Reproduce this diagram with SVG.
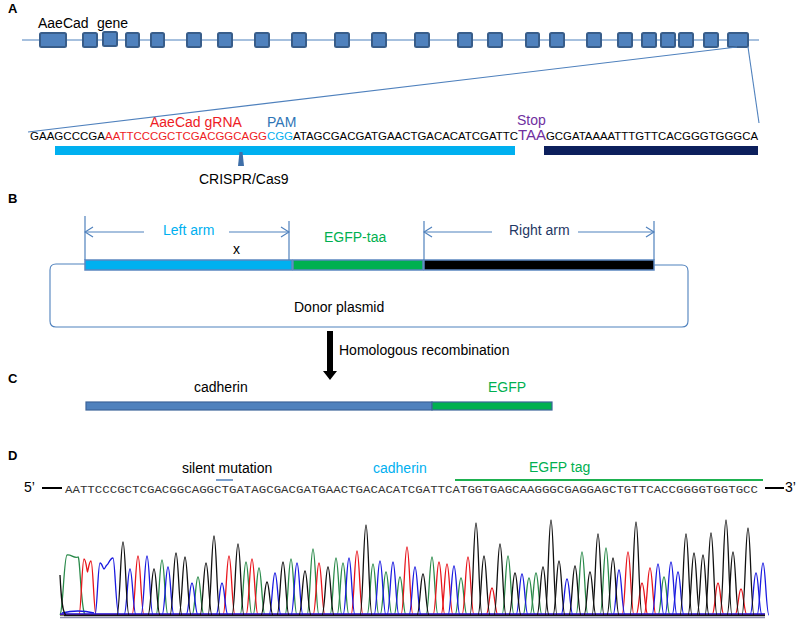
<svg xmlns="http://www.w3.org/2000/svg" xmlns:xlink="http://www.w3.org/1999/xlink" width="800" height="620" viewBox="0 0 800 620">
<style>
text{font-family:"Liberation Sans",Arial,sans-serif;font-size:14px;fill:#000}
.pl{font-weight:bold;font-size:13px}
.sq{font-size:10.5px}
.mono{font-family:"Liberation Mono","Courier New",monospace;font-size:11px;fill:#333}
.exon{fill:#4f81bd;stroke:#385d8a;stroke-width:2}
.thin{stroke:#4f81bd;stroke-width:1.1;fill:none}
.dim{stroke:#4f81bd;stroke-width:1.2;fill:none}
.seg{stroke:#5b86c0;stroke-width:1.5}
.red{fill:#ee1c25}.cyan{fill:#00b0f0}.pam{fill:#2e75b6}.pur{fill:#7030a0}.grn{fill:#00b050}.navy{fill:#1f3864}
.tr{fill:none;stroke-width:1.3}
</style>
<defs>
<marker id="chev" markerWidth="10" markerHeight="12" refX="9" refY="6" orient="auto" markerUnits="userSpaceOnUse">
<path d="M1,1 L9,6 L1,11" fill="none" stroke="#4f81bd" stroke-width="1.2"/>
</marker>
<path id="pk" d="M-6,0 C-3.2,0 -2.4,-1 0,-1 C2.4,-1 3.2,0 6,0" vector-effect="non-scaling-stroke"/>
</defs>
<rect width="800" height="620" fill="#fff"/>

<!-- panel labels -->
<text class="pl" x="8" y="13">A</text>
<text class="pl" x="8" y="203">B</text>
<text class="pl" x="8" y="383">C</text>
<text class="pl" x="8" y="460">D</text>

<!-- Panel A: gene -->
<g id="gene">
<line x1="22" y1="40" x2="759" y2="40" stroke="#4f81bd" stroke-width="1.2"/>
<g>
<rect class="exon" x="40" y="33" width="26" height="14" rx="1.5"/>
<rect class="exon" x="83" y="33" width="14" height="14" rx="1.5"/>
<rect class="exon" x="103" y="32" width="14" height="14" rx="1.5"/>
<rect class="exon" x="126" y="33" width="13" height="14" rx="1.5"/>
<rect class="exon" x="151" y="33" width="13" height="14" rx="1.5"/>
<rect class="exon" x="187" y="33" width="14" height="14" rx="1.5"/>
<rect class="exon" x="218" y="33" width="14" height="14" rx="1.5"/>
<rect class="exon" x="255" y="33" width="14" height="14" rx="1.5"/>
<rect class="exon" x="292" y="33" width="14" height="14" rx="1.5"/>
<rect class="exon" x="335" y="33" width="14" height="14" rx="1.5"/>
<rect class="exon" x="372" y="33" width="14" height="14" rx="1.5"/>
<rect class="exon" x="415" y="33" width="14" height="14" rx="1.5"/>
<rect class="exon" x="458" y="33" width="14" height="14" rx="1.5"/>
<rect class="exon" x="488" y="33" width="14" height="14" rx="1.5"/>
<rect class="exon" x="526" y="33" width="13" height="14" rx="1.5"/>
<rect class="exon" x="550" y="33" width="14" height="14" rx="1.5"/>
<rect class="exon" x="587" y="33" width="14" height="14" rx="1.5"/>
<rect class="exon" x="618" y="33" width="14" height="14" rx="1.5"/>
<rect class="exon" x="642" y="33" width="14" height="14" rx="1.5"/>
<rect class="exon" x="661" y="33" width="14" height="14" rx="1.5"/>
<rect class="exon" x="679" y="33" width="14" height="14" rx="1.5"/>
<rect class="exon" x="704" y="33" width="14" height="14" rx="1.5"/>
<rect class="exon" x="728" y="33" width="20" height="14" rx="1.5"/>
</g>
<text x="38" y="28">AaeCad<tspan x="97">gene</tspan></text>
</g>

<!-- Panel A: sequence -->
<g id="sequenceA">
<text class="sq" x="30" y="140" textLength="75" lengthAdjust="spacingAndGlyphs">GAAGCCCGA</text>
<text class="sq red" x="105" y="140" textLength="162" lengthAdjust="spacingAndGlyphs">AATTCCCGCTCGACGGCAGG</text>
<text class="sq cyan" x="267" y="140" textLength="26" lengthAdjust="spacingAndGlyphs">CGG</text>
<text class="sq" x="293" y="140" textLength="225" lengthAdjust="spacingAndGlyphs">ATAGCGACGATGAACTGACACATCGATTC</text>
<text class="pur" x="518" y="140" textLength="28" lengthAdjust="spacingAndGlyphs">TAA</text>
<text class="sq" x="546" y="140" textLength="212" lengthAdjust="spacingAndGlyphs">GCGATAAAATTTGTTCACGGGTGGGCA</text>
<text class="red" x="150" y="127">AaeCad gRNA</text>
<text class="pam" x="267" y="127">PAM</text>
<text class="pur" x="517" y="125">Stop</text>
<rect x="55" y="146" width="460" height="9" fill="#00b0f0"/>
<rect x="544" y="146" width="214" height="9" fill="#0c1f5c"/>
</g>

<g id="crispr">
<polygon points="239.5,152 242.5,152 244,166 238,166" fill="#3f6fa8"/>
<text x="199" y="184">CRISPR/Cas9</text>
</g>

<!-- Panel B -->
<g id="donor">
<path class="thin" stroke-width="1.5" d="M85,264 L56,264 Q50,264 50,270 L50,321 Q50,327 56,327 L682,327 Q688,327 688,321 L688,271 Q688,265 682,265 L654,265"/>
<rect class="seg" x="85" y="260" width="207" height="10" fill="#00b0f0"/>
<rect class="seg" x="293" y="260" width="130" height="10" fill="#00b050"/>
<rect class="seg" x="424" y="260" width="230" height="10" fill="#000"/>
<text x="294" y="312">Donor plasmid</text>
<text x="233" y="254">x</text>
</g>
<g id="leftarm">
<line class="dim" x1="85" y1="216" x2="85" y2="260"/>
<line class="dim" x1="289" y1="221" x2="289" y2="260"/>
<text class="cyan" x="163" y="235">Left arm</text>
</g>
<g id="egfp-taa">
<text class="grn" x="324" y="242">EGFP-taa</text>
</g>
<g id="rightarm">
<line class="dim" x1="424" y1="221" x2="424" y2="260"/>
<line class="dim" x1="654" y1="221" x2="654" y2="260"/>
<text class="navy" x="509" y="235">Right arm</text>
</g>

<!-- Panel C -->
<g id="result">
<rect x="86" y="402" width="346" height="8" fill="#4f81bd" stroke="#3c6499" stroke-width="1.2"/>
<rect x="432" y="402" width="120" height="8" fill="#00b050" stroke="#3c6499" stroke-width="1.2"/>
<text x="194" y="392">cadherin</text>
<text class="grn" x="488" y="392">EGFP</text>
</g>

<!-- connectors -->
<g id="connectors">
<line class="thin" x1="28" y1="132" x2="737" y2="47"/>
<line class="thin" x1="748" y1="47" x2="759" y2="123"/>
<line class="dim" x1="144" y1="232" x2="85" y2="232" marker-end="url(#chev)"/>
<line class="dim" x1="229" y1="232" x2="289" y2="232" marker-end="url(#chev)"/>
<line class="dim" x1="492" y1="232" x2="424" y2="232" marker-end="url(#chev)"/>
<line class="dim" x1="578" y1="232" x2="654" y2="232" marker-end="url(#chev)"/>
<polygon points="327,331 333,331 333,371 337,371 330,380 323,371 327,371" fill="#000"/>
<text x="339" y="355">Homologous recombination</text>
</g>

<!-- Panel D -->
<g id="sequenceD">
<text x="24" y="492">5’</text>
<line x1="42" y1="488" x2="62" y2="488" stroke="#000" stroke-width="2"/>
<text class="mono" x="65" y="493" textLength="693" lengthAdjust="spacingAndGlyphs">AATTCCCGCTCGACGGCAGGCTGATAGCGACGATGAACTGACACATCGATTCATGGTGAGCAAGGGCGAGGAGCTGTTCACCGGGGTGGTGCC</text>
<line x1="765" y1="488" x2="784" y2="488" stroke="#000" stroke-width="2"/>
<text x="785" y="492">3’</text>
<text x="182" y="473">silent mutation</text>
<line x1="216" y1="480" x2="233" y2="480" stroke="#4f81bd" stroke-width="1.5"/>
<text class="cyan" x="373" y="473">cadherin</text>
<text class="grn" x="529" y="472">EGFP tag</text>
<line x1="455" y1="480" x2="763" y2="480" stroke="#1db150" stroke-width="2"/>
</g>

<g id="chromatogram">
<g class="tr" stroke="#2a8a4a">
<line x1="60" y1="615" x2="765" y2="615"/>
<path d="M60,615 C63,612 64,556 67,555 C71,554 74,559 78,557 C80,556 81,610 85,615"/>
<use href="#pk" transform="translate(162,615) scale(1,55)"/>
<use href="#pk" transform="translate(198,615) scale(1,38)"/>
<use href="#pk" transform="translate(246,615) scale(1,53)"/>
<use href="#pk" transform="translate(259,615) scale(1,47)"/>
<use href="#pk" transform="translate(291,615) scale(1,56)"/>
<use href="#pk" transform="translate(313,615) scale(1,66)"/>
<use href="#pk" transform="translate(336,615) scale(1,57)"/>
<use href="#pk" transform="translate(343,615) scale(1,52)"/>
<use href="#pk" transform="translate(373,615) scale(1,51)"/>
<use href="#pk" transform="translate(386,615) scale(1,43)"/>
<use href="#pk" transform="translate(400,615) scale(1,38)"/>
<use href="#pk" transform="translate(432,615) scale(1,58)"/>
<use href="#pk" transform="translate(461,615) scale(1,37)"/>
<use href="#pk" transform="translate(508,615) scale(1,59)"/>
<use href="#pk" transform="translate(529,615) scale(1,37)"/>
<use href="#pk" transform="translate(536,615) scale(1,42)"/>
<use href="#pk" transform="translate(582,615) scale(1,63)"/>
<use href="#pk" transform="translate(606,615) scale(1,67)"/>
<use href="#pk" transform="translate(664,615) scale(1,38)"/>
</g>
<g class="tr" stroke="#e8141b">
<line x1="60" y1="614.5" x2="765" y2="614.5"/>
<path d="M79,615 C81,615 82,559 84,559 C86,559 87,572 87.5,572 C88,572 89,561 91,561 C93,561 94,615 96,615"/>
<use href="#pk" transform="translate(138,615) scale(1,59)"/>
<use href="#pk" transform="translate(229,615) scale(1,59)"/>
<use href="#pk" transform="translate(252,615) scale(1,56)"/>
<use href="#pk" transform="translate(319,615) scale(1,52)"/>
<use href="#pk" transform="translate(357,615) scale(1,64)"/>
<use href="#pk" transform="translate(407,615) scale(1,68)"/>
<use href="#pk" transform="translate(439,615) scale(1,53)"/>
<use href="#pk" transform="translate(447,615) scale(1,51)"/>
<use href="#pk" transform="translate(468,615) scale(1,58)"/>
<use href="#pk" transform="translate(492,615) scale(1,27)"/>
<use href="#pk" transform="translate(628,615) scale(1,63)"/>
<use href="#pk" transform="translate(642,615) scale(1,32)"/>
<use href="#pk" transform="translate(650,615) scale(1,47)"/>
<use href="#pk" transform="translate(718,615) scale(1,32)"/>
<use href="#pk" transform="translate(741,615) scale(1,26)"/>
</g>
<g class="tr" stroke="#1a1ae0">
<line x1="60" y1="614" x2="765" y2="614"/>
<path d="M62,613 C70,611 82,610 94,613"/>
<path d="M95,615 C97,615 98,563 100,563 C102,563 103,569 104,569 C105,569 106,565 107,565 C108,565 110,558 113,558 C115,558 116,615 119,615"/>
<use href="#pk" transform="translate(130,615) scale(1,46)"/>
<use href="#pk" transform="translate(147,615) scale(1,59)"/>
<use href="#pk" transform="translate(168,615) scale(1,48)"/>
<use href="#pk" transform="translate(192,615) scale(1,32)"/>
<use href="#pk" transform="translate(222,615) scale(1,32)"/>
<use href="#pk" transform="translate(275,615) scale(1,42)"/>
<use href="#pk" transform="translate(297,615) scale(1,52)"/>
<use href="#pk" transform="translate(349,615) scale(1,57)"/>
<use href="#pk" transform="translate(380,615) scale(1,54)"/>
<use href="#pk" transform="translate(393,615) scale(1,53)"/>
<use href="#pk" transform="translate(415,615) scale(1,48)"/>
<use href="#pk" transform="translate(454,615) scale(1,49)"/>
<use href="#pk" transform="translate(522,615) scale(1,41)"/>
<use href="#pk" transform="translate(567,615) scale(1,36)"/>
<use href="#pk" transform="translate(619,615) scale(1,45)"/>
<use href="#pk" transform="translate(658,615) scale(1,51)"/>
<use href="#pk" transform="translate(671,615) scale(1,53)"/>
<use href="#pk" transform="translate(678,615) scale(1,43)"/>
<use href="#pk" transform="translate(756,615) scale(1,42)"/>
<use href="#pk" transform="translate(763,615) scale(1,52)"/>
</g>
<g class="tr" stroke="#111">
<line x1="64" y1="615.5" x2="765" y2="615.5"/>
<path d="M60,575 C61,595 62,613 66,615"/>
<use href="#pk" transform="translate(123,615) scale(1,73)"/>
<use href="#pk" transform="translate(154,615) scale(1,46)"/>
<use href="#pk" transform="translate(176,615) scale(1,62)"/>
<use href="#pk" transform="translate(185,615) scale(1,58)"/>
<use href="#pk" transform="translate(206,615) scale(1,52)"/>
<use href="#pk" transform="translate(214,615) scale(1,79)"/>
<use href="#pk" transform="translate(238,615) scale(1,71)"/>
<use href="#pk" transform="translate(267,615) scale(1,33)"/>
<use href="#pk" transform="translate(283,615) scale(1,53)"/>
<use href="#pk" transform="translate(305,615) scale(1,44)"/>
<use href="#pk" transform="translate(328,615) scale(1,48)"/>
<use href="#pk" transform="translate(366,615) scale(1,90)"/>
<use href="#pk" transform="translate(423,615) scale(1,41)"/>
<use href="#pk" transform="translate(476,615) scale(1,92)"/>
<use href="#pk" transform="translate(484,615) scale(1,59)"/>
<use href="#pk" transform="translate(500,615) scale(1,71)"/>
<use href="#pk" transform="translate(515,615) scale(1,42)"/>
<use href="#pk" transform="translate(543,615) scale(1,48)"/>
<use href="#pk" transform="translate(551,615) scale(1,95)"/>
<use href="#pk" transform="translate(559,615) scale(1,54)"/>
<use href="#pk" transform="translate(575,615) scale(1,49)"/>
<use href="#pk" transform="translate(590,615) scale(1,43)"/>
<use href="#pk" transform="translate(598,615) scale(1,81)"/>
<use href="#pk" transform="translate(613,615) scale(1,57)"/>
<use href="#pk" transform="translate(636,615) scale(1,93)"/>
<use href="#pk" transform="translate(686,615) scale(1,81)"/>
<use href="#pk" transform="translate(694,615) scale(1,62)"/>
<use href="#pk" transform="translate(703,615) scale(1,60)"/>
<use href="#pk" transform="translate(711,615) scale(1,82)"/>
<use href="#pk" transform="translate(726,615) scale(1,95)"/>
<use href="#pk" transform="translate(733,615) scale(1,63)"/>
<use href="#pk" transform="translate(748,615) scale(1,87)"/>
</g>
<line x1="60" y1="617.5" x2="765" y2="617.5" stroke="#8c8cae" stroke-width="1.5"/>
</g>
</svg>
